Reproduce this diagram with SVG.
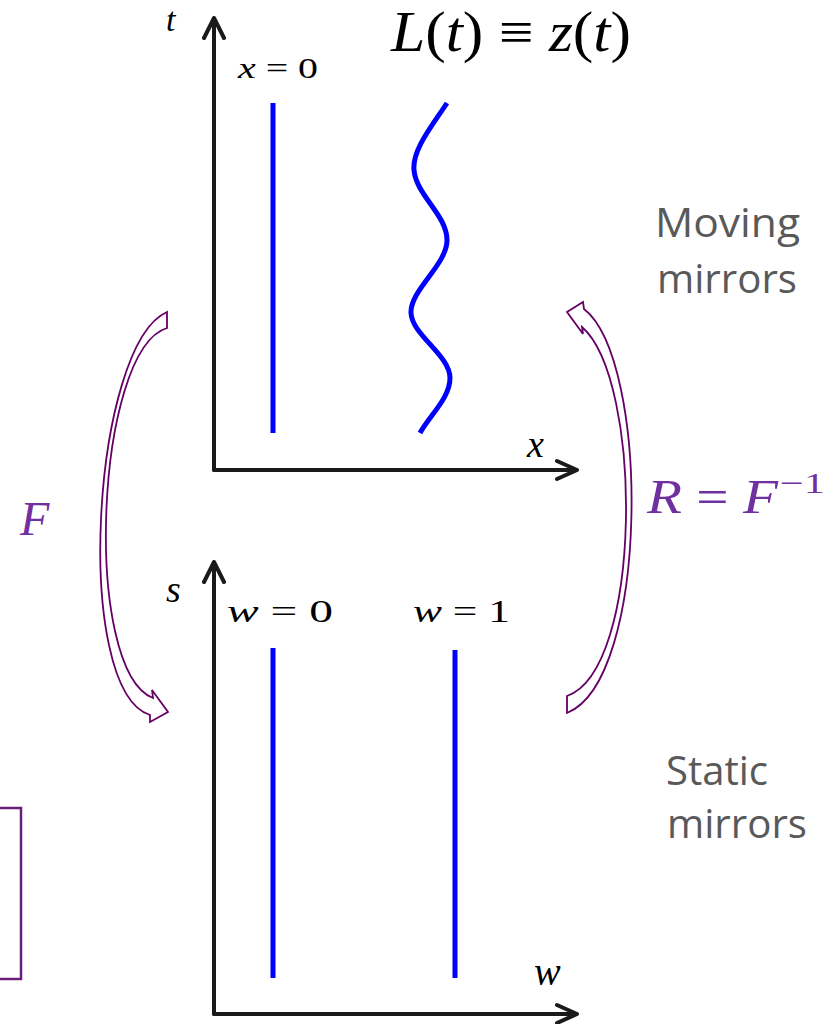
<svg xmlns="http://www.w3.org/2000/svg" width="837" height="1024" viewBox="0 0 837 1024">
<style>
.axis{stroke:#1a1a1a;stroke-width:4;fill:none;stroke-linecap:round;stroke-linejoin:round}
.mirror{stroke:#0000ff;stroke-width:5;fill:none}
.bend{stroke:#660066;stroke-width:1.8;fill:#ffffff;stroke-linejoin:miter}
.math{font-family:"Liberation Serif","DejaVu Serif",serif;fill:#000}
.it{font-style:italic}
.lab{font-family:"Open Sans","Liberation Sans",sans-serif;font-size:40px;fill:#595959}
.pm{font-family:"Liberation Serif","DejaVu Serif",serif;fill:#7030a0}
</style>
<rect width="837" height="1024" fill="#ffffff"/>

<g id="connectors">
  <path id="arrowF" class="bend" d="M167,312 C92,345 72,690 150,715 L150,722 L168,712 L152,690 L153,698 C82,670 95,350 167,328 Z"/>
  <path id="arrowR" class="bend" d="M567,312 L583,302 L584,309 C650,360 650,680 567,713 L567,696 C643,670 643,380 582,327 L583,334 Z"/>
</g>

<g id="top-axes">
  <path class="axis" d="M214,470 L214,18 M204,38 L214,18 L224,38"/>
  <path class="axis" d="M214,470 L577,470 M557,461 L577,470 L557,479"/>
  <text class="math it" x="166" y="31" font-size="34">t</text>
  <text class="math it" x="527" y="457" font-size="38">x</text>
</g>

<g id="top-mirrors">
  <line class="mirror" x1="273" y1="103" x2="273" y2="433"/>
  <path class="mirror" d="M447,103 C432,126 412,150 414,170 C416,195 447,215 447,240 C447,265 410,290 411,313 C412,335 450,355 450,378 C450,398 430,415 420,433"/>
  <text class="math" x="238" y="78" font-size="30" textLength="80" lengthAdjust="spacingAndGlyphs"><tspan class="it">x</tspan> = 0</text>
  <text class="math" x="391" y="51" font-size="56" textLength="240" lengthAdjust="spacingAndGlyphs"><tspan class="it">L</tspan>(<tspan class="it">t</tspan>) ≡ <tspan class="it">z</tspan>(<tspan class="it">t</tspan>)</text>
</g>

<g id="bottom-axes">
  <path class="axis" d="M214,1014 L214,562 M204,582 L214,562 L224,582"/>
  <path class="axis" d="M214,1014 L577,1014 M557,1005 L577,1014 L557,1023"/>
  <text class="math it" x="166" y="602" font-size="38">s</text>
  <text class="math it" x="534" y="985" font-size="40">w</text>
</g>

<g id="bottom-mirrors">
  <line class="mirror" x1="273" y1="648" x2="273" y2="978"/>
  <line class="mirror" x1="455" y1="650" x2="455" y2="978"/>
  <text class="math" x="227" y="622" font-size="32" textLength="106" lengthAdjust="spacingAndGlyphs"><tspan class="it">w</tspan> = 0</text>
  <text class="math" x="413" y="622" font-size="32" textLength="97" lengthAdjust="spacingAndGlyphs"><tspan class="it">w</tspan> = 1</text>
</g>

<g id="label-F">
  <text class="pm it" x="20" y="535" font-size="48">F</text>
</g>
<g id="label-R">
  <text class="pm" x="647" y="513" font-size="48" textLength="131" lengthAdjust="spacingAndGlyphs"><tspan class="it">R</tspan> = <tspan class="it">F</tspan></text>
  <text class="pm" x="780" y="493" font-size="30" textLength="45" lengthAdjust="spacingAndGlyphs">−1</text>
</g>

<g id="label-moving">
  <text class="lab" x="655" y="237" textLength="145" lengthAdjust="spacingAndGlyphs">Moving</text>
  <text class="lab" x="657" y="293" textLength="140" lengthAdjust="spacingAndGlyphs">mirrors</text>
</g>
<g id="label-static">
  <text class="lab" x="666" y="785" textLength="102" lengthAdjust="spacingAndGlyphs">Static</text>
  <text class="lab" x="667" y="838" textLength="140" lengthAdjust="spacingAndGlyphs">mirrors</text>
</g>

<g id="frame">
  <rect x="-10" y="808" width="31" height="171" fill="none" stroke="#6b1f7b" stroke-width="2.5"/>
</g>
</svg>
